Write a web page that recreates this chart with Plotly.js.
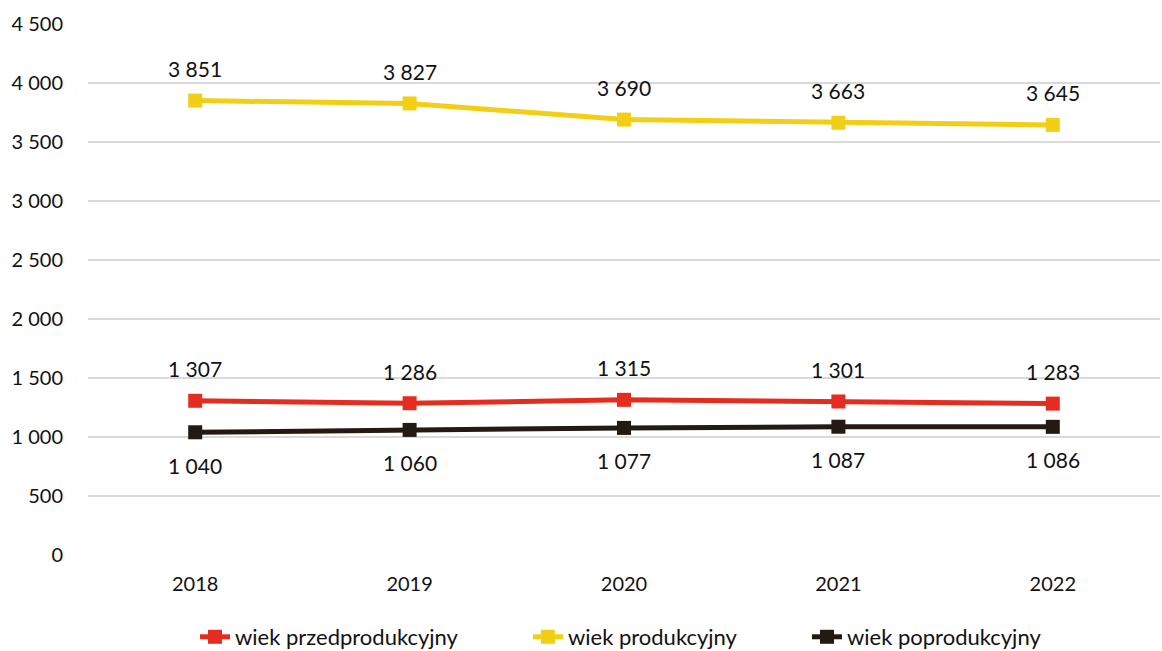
<!DOCTYPE html>
<html>
<head>
<meta charset="utf-8">
<script src="https://cdn.plot.ly/plotly-3.0.1.min.js"></script>
<style>html,body{margin:0;padding:0;background:#fff;}#chart{width:1162px;height:651px;}</style>
</head>
<body>
<div id="chart"></div>
<script>
const years = ['2018', '2019', '2020', '2021', '2022'];
const przedprodukcyjny = [1307, 1286, 1315, 1301, 1283];
const produkcyjny = [3851, 3827, 3690, 3663, 3645];
const poprodukcyjny = [1040, 1060, 1077, 1087, 1086];
const seriesNames = ['wiek przedprodukcyjny', 'wiek produkcyjny', 'wiek poprodukcyjny'];
const colors = ['#E52D1F', '#F2CF15', '#231A12'];
const labelShift = [32, 32, -33];
const legendX = [0.0998, 0.4104, 0.6707];

const FONT = 'Lato, "Open Sans", sans-serif';
const allSeries = [przedprodukcyjny, produkcyjny, poprodukcyjny];
const legendIds = ['legend', 'legend2', 'legend3'];

const traces = allSeries.map((vals, i) => ({
  x: years, y: vals, name: seriesNames[i], type: 'scatter', mode: 'lines+markers',
  line: {color: colors[i], width: 5},
  marker: {color: colors[i], symbol: 'square', size: 14},
  legend: legendIds[i],
  hoverinfo: 'skip'
}));

function fmt(v){ return String(v).replace(/\B(?=(\d{3})+(?!\d))/g, ' '); }

const annotations = [];
allSeries.forEach((vals, i) => {
  vals.forEach((v, j) => {
    annotations.push({x: j, y: v, xref: 'x', yref: 'y', text: fmt(v), showarrow: false,
      yshift: labelShift[i], font: {family: FONT, size: 21, color: '#111'}});
  });
});

const layout = {
  width: 1162, height: 651,
  margin: {l: 88, r: 2, t: 24, b: 96, autoexpand: false},
  paper_bgcolor: '#fff', plot_bgcolor: '#fff',
  separators: ', ',
  font: {family: FONT, size: 20, color: '#111'},
  xaxis: {type: 'category', range: [-0.5, 4.5], showgrid: false, zeroline: false, showline: false,
    ticks: '', ticklabelstandoff: 15, tickfont: {family: FONT, size: 20, color: '#111'}},
  yaxis: {range: [0, 4500], dtick: 500, tickformat: ',d', showgrid: true, gridcolor: '#d9d9d9', gridwidth: 2,
    zeroline: false, showline: false, ticks: '', ticklabelstandoff: 24, tickfont: {family: FONT, size: 20, color: '#111'}},
  showlegend: true,
  annotations: annotations
};
legendIds.forEach((id, i) => {
  layout[id] = {orientation: 'h', x: legendX[i], xanchor: 'left', y: -0.1544, yanchor: 'middle',
    bgcolor: 'rgba(0,0,0,0)', font: {family: FONT, size: 22, color: '#111'}};
});

Plotly.newPlot('chart', traces, layout, {displayModeBar: false, staticPlot: true});
</script>
</body>
</html>
